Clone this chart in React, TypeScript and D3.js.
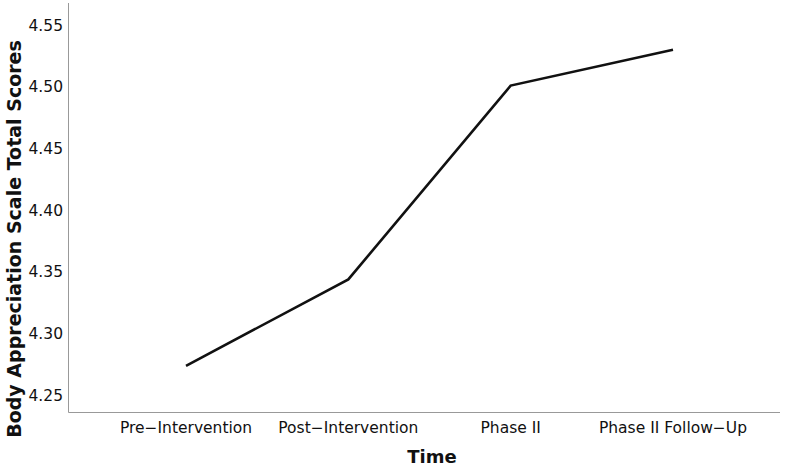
import React from "react";
import * as d3 from "d3";

const categories = ["Pre-Intervention", "Post-Intervention", "Phase II", "Phase II Follow-Up"];
const scores = [4.274, 4.344, 4.501, 4.530];
const yTicks = [4.25, 4.3, 4.35, 4.4, 4.45, 4.5, 4.55];

const W = 793;
const H = 469;
const left = 68.5;
const right = 780;
const top = 3;
const bottom = 412.5;
const font = "'DejaVu Sans', sans-serif";

export default function App() {
  const x = d3.scalePoint<string>().domain(categories).range([186, 673]);
  const y = d3.scaleLinear().domain([4.2362, 4.5679]).range([bottom, top]);
  const line = d3
    .line<number>()
    .x((_, i) => x(categories[i]) as number)
    .y((d) => y(d));

  return (
    <svg
      width={W}
      height={H}
      style={{ position: "absolute", left: 0, top: 0, background: "#fff" }}
      fontFamily={font}
    >
      <rect x={0} y={0} width={W} height={H} fill="#fff" />
      <line x1={left} x2={left} y1={top} y2={bottom} stroke="#999" strokeWidth={1} />
      <line x1={left} x2={right} y1={bottom} y2={bottom} stroke="#999" strokeWidth={1} />
      {yTicks.map((t) => (
        <text
          key={t}
          x={left - 5.5}
          y={y(t)}
          dy="0.35em"
          textAnchor="end"
          fontSize={15.5}
          fill="#111"
        >
          {t.toFixed(2)}
        </text>
      ))}
      {categories.map((c) => (
        <text
          key={c}
          x={x(c)}
          y={433}
          textAnchor="middle"
          fontSize={15.5}
          fill="#111"
        >
          {c.replace(/-/g, "\u2212")}
        </text>
      ))}
      <path d={line(scores) || ""} fill="none" stroke="#111" strokeWidth={2.6} strokeLinejoin="miter" />
      <text x={432} y={463} textAnchor="middle" fontSize={18} fontWeight="bold" fill="#111">
        Time
      </text>
      <text
        transform={`translate(21, 239) rotate(-90)`}
        textAnchor="middle"
        fontSize={19}
        fontWeight="bold"
        fill="#111"
      >
        Body Appreciation Scale Total Scores
      </text>
    </svg>
  );
}
